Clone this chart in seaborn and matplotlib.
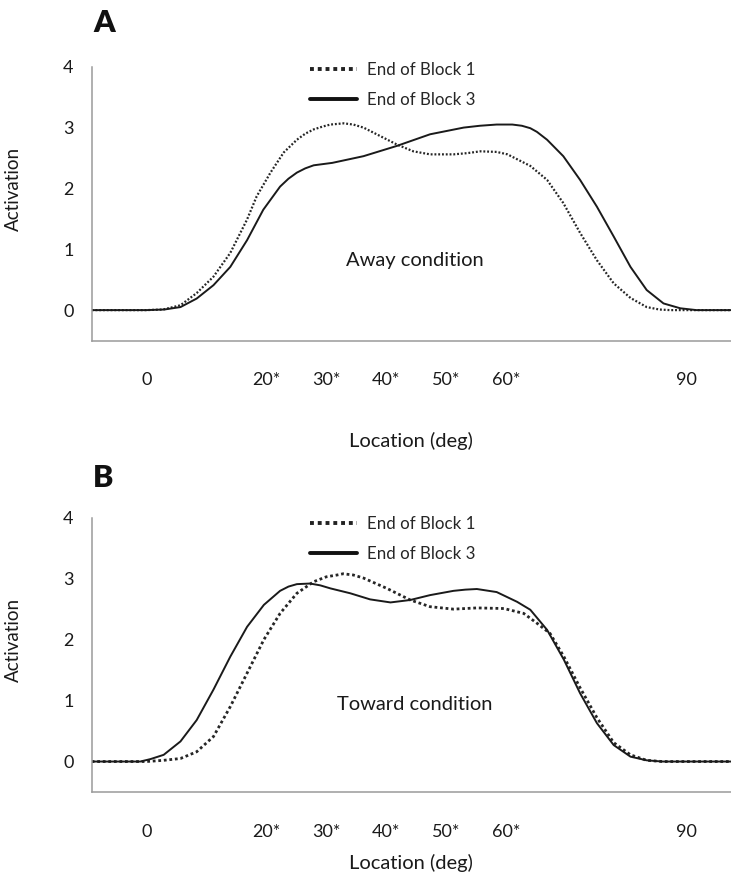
"""
Activation profiles at the end of Block 1 and Block 3 (Away / Toward).
Saves out.png (731x877).
"""

import numpy as np
import pandas as pd
import matplotlib
matplotlib.use("Agg")
import matplotlib.pyplot as plt
from matplotlib.lines import Line2D
import seaborn as sns

sns.set_style("white")
plt.rcParams["font.family"] = ["Lato", "DejaVu Sans"]

# ---------------------------------------------------------------------------
# Data
# ---------------------------------------------------------------------------
SERIES = ["End of Block 1", "End of Block 3"]

away_b1_x = [-9.1, 0, 2.8, 5.7, 8.4, 11.2, 14, 16.8, 18.4, 20.7, 22.9, 25.1, 26.5,
             27.9, 29.5, 30.7, 32.9, 34.5, 36.2, 39, 41.8, 44.5, 47.3, 51.2, 53.5,
             55.7, 58.4, 60.2, 61.8, 64, 66.8, 69.5, 72.3, 75.1, 77.9, 80.7, 83.4,
             85.5, 87.3, 97.45]
away_b1_y = [0, 0, 0.01, 0.08, 0.28, 0.55, 0.94, 1.49, 1.87, 2.26, 2.59, 2.80, 2.90,
             2.97, 3.02, 3.05, 3.07, 3.05, 3.00, 2.86, 2.72, 2.61, 2.56, 2.56, 2.58,
             2.61, 2.60, 2.56, 2.48, 2.37, 2.14, 1.76, 1.27, 0.82, 0.44, 0.20, 0.05,
             0.01, 0.0, 0]

away_b3_x = [-9.1, 0, 3, 5.7, 8.4, 11.2, 14, 16.8, 19.5, 22.3, 23.7, 25.1, 26.5,
             27.9, 31, 36.2, 41.8, 47.3, 52.9, 55.6, 58.4, 61, 62.6, 64, 65.1, 66.8,
             69.5, 72.3, 75.1, 77.9, 80.7, 83.4, 86.2, 89, 91.7, 97.45]
away_b3_y = [0, 0, 0.01, 0.05, 0.19, 0.41, 0.71, 1.15, 1.65, 2.03, 2.16, 2.26, 2.33,
             2.38, 2.42, 2.53, 2.70, 2.89, 3.00, 3.03, 3.05, 3.05, 3.03, 2.99, 2.93,
             2.80, 2.53, 2.14, 1.70, 1.21, 0.71, 0.33, 0.11, 0.03, 0, 0]

toward_b1_x = [-9.1, 0, 2.9, 5.7, 8.4, 11.2, 14, 16.8, 19.6, 22.3, 25.1, 27.9, 30,
               31.8, 32.8, 34.5, 36.2, 40.1, 44, 47.3, 51.2, 55.1, 59.6, 62.9, 65.1,
               67.3, 69.6, 72.3, 75.1, 77.9, 80.7, 83.4, 86, 97.45]
toward_b1_y = [0, 0, 0.02, 0.05, 0.16, 0.41, 0.90, 1.45, 2.00, 2.43, 2.76, 2.95, 3.03,
               3.06, 3.08, 3.06, 3.01, 2.84, 2.65, 2.54, 2.50, 2.52, 2.51, 2.43, 2.27,
               2.10, 1.72, 1.21, 0.72, 0.31, 0.11, 0.02, 0, 0]

toward_b3_x = [-9.1, -1, 0.7, 2.9, 5.7, 8.4, 11.2, 14, 16.8, 19.6, 22.3, 23.7, 25.1,
               27.3, 29, 30.7, 34, 37.3, 40.7, 44, 47.3, 51.2, 53.2, 55.1, 58.4, 61.8,
               64, 66.8, 69.6, 72.3, 75.1, 77.9, 80.7, 83.4, 86, 97.45]
toward_b3_y = [0, 0, 0.04, 0.11, 0.33, 0.68, 1.18, 1.72, 2.21, 2.57, 2.80, 2.87, 2.91,
               2.92, 2.89, 2.84, 2.76, 2.66, 2.61, 2.65, 2.73, 2.80, 2.82, 2.83, 2.78,
               2.62, 2.49, 2.16, 1.67, 1.12, 0.63, 0.27, 0.08, 0.02, 0, 0]

x_ticks = [0, 20, 30, 40, 50, 60, 90]
x_tick_labels = ["0", "20*", "30*", "40*", "50*", "60*", "90"]
y_ticks = [0, 1, 2, 3, 4]
y_minor_ticks = [0.5, 1.5, 2.5, 3.5]


def long_df(b1_x, b1_y, b3_x, b3_y):
    return pd.concat([
        pd.DataFrame({"loc": b1_x, "act": b1_y, "series": SERIES[0]}),
        pd.DataFrame({"loc": b3_x, "act": b3_y, "series": SERIES[1]}),
    ], ignore_index=True)


away_df = long_df(away_b1_x, away_b1_y, away_b3_x, away_b3_y)
toward_df = long_df(toward_b1_x, toward_b1_y, toward_b3_x, toward_b3_y)

# ---------------------------------------------------------------------------
# Figure
# ---------------------------------------------------------------------------
FS = 13
AXIS_GREY = "#9a9a9a"
INK = "#1a1a1a"

fig = plt.figure(figsize=(7.31, 8.77), dpi=100)
ax_a = fig.add_axes([0.1254, 0.6117, 0.8746, 0.3122])
ax_b = fig.add_axes([0.1254, 0.0969, 0.8746, 0.3128])


def draw_panel(ax, df, dot_lw, dot_pattern, note, note_xy, xlabel_y, legend_y):
    d1 = df[df["series"] == SERIES[0]]
    d3 = df[df["series"] == SERIES[1]]
    sns.lineplot(data=d1, x="loc", y="act", ax=ax, color="#262626", lw=dot_lw,
                 linestyle=(0, dot_pattern), estimator=None, sort=False, legend=False,
                 solid_joinstyle="round", dash_joinstyle="round")
    sns.lineplot(data=d3, x="loc", y="act", ax=ax, color=INK, lw=1.4,
                 estimator=None, sort=False, legend=False, solid_joinstyle="round")

    ax.set_xlim(-9.1, 97.45)
    ax.set_ylim(-0.5, 4)
    ax.set_xticks(x_ticks)
    ax.set_xticklabels(x_tick_labels)
    ax.set_yticks(y_ticks)
    ax.set_yticks(y_minor_ticks, minor=True)

    for side in ["top", "right"]:
        ax.spines[side].set_visible(False)
    for side in ["left", "bottom"]:
        ax.spines[side].set_color(AXIS_GREY)
        ax.spines[side].set_linewidth(1.1)

    ax.tick_params(axis="both", which="both", direction="in", color=AXIS_GREY,
                   width=1.0, labelcolor=INK, labelsize=FS)
    ax.tick_params(axis="x", length=6, pad=23)
    ax.tick_params(axis="y", which="both", length=5, pad=13)

    ax.set_xlabel("Location (deg)", fontsize=14.5, color=INK)
    ax.set_ylabel("Activation", fontsize=13.5, color=INK)
    ax.xaxis.set_label_coords(0.5, xlabel_y)
    ax.yaxis.set_label_coords(-0.109, 0.555)

    ax.text(note_xy[0], note_xy[1], note, fontsize=14.5, color=INK,
            ha="center", va="center")

    handles = [
        Line2D([], [], color="#222222", lw=2.8, linestyle=(0, (1, 1))),
        Line2D([], [], color="#111111", lw=2.8),
    ]
    ax.legend(handles, SERIES, loc="upper left", bbox_to_anchor=(0.3415, legend_y),
              frameon=False, fontsize=12.2, handlelength=2.75, handletextpad=0.6,
              labelspacing=0.8, borderpad=0, borderaxespad=0)


draw_panel(ax_a, away_df, 1.6, (0.85, 0.85), "Away condition", (44.7, 0.82),
           -0.335, 1.017)
draw_panel(ax_b, toward_df, 2.0, (1, 1), "Toward condition", (44.7, 0.93),
           -0.226, 1.006)

fig.text(104 / 731, 1 - 23 / 877, "A", fontsize=22, fontweight="heavy",
         ha="center", va="center", color="#111111")
fig.text(103 / 731, 1 - 478 / 877, "B", fontsize=22, fontweight="heavy",
         ha="center", va="center", color="#111111")

fig.savefig("out.png", dpi=100)
plt.close(fig)
